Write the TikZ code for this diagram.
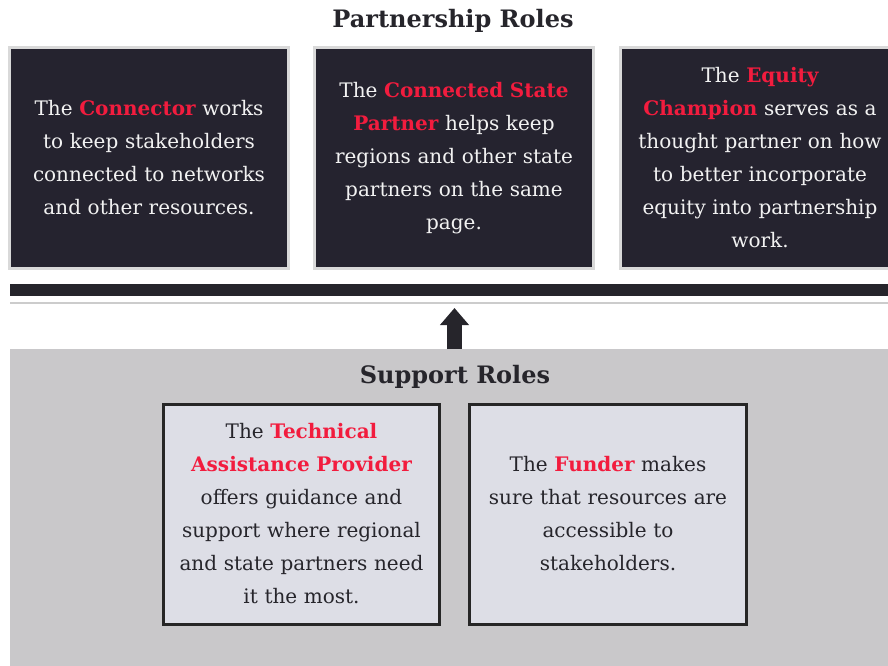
\documentclass[tikz,border=0pt]{standalone}
\usepackage{fontspec}
\setmainfont{DejaVu Serif}
\usetikzlibrary{arrows.meta,positioning}

%Colours
\definecolor{boxdark}{HTML}{25232F}
\definecolor{boxlight}{HTML}{DDDEE6}
\definecolor{panelgray}{HTML}{C9C8CA}
\definecolor{rolered}{HTML}{F21C3E}
\definecolor{inkdark}{HTML}{26252B}

\newcommand{\rolename}[1]{{\bfseries\color{rolered}#1}}

\begin{document}
\begin{tikzpicture}[x=1pt,y=-1pt,
  heading/.style={font=\fontsize{24}{28}\selectfont\bfseries, text=inkdark},
  partbox/.style={draw=gray!30, line width=2.5pt, fill=boxdark, text=white!95!black,
    minimum width=275pt, minimum height=221pt, text width=272pt, align=center,
    font=\fontsize{20}{33}\selectfont},
  supportbox/.style={draw=black!85, line width=3pt, fill=boxlight, text=inkdark,
    minimum width=274pt, minimum height=220pt, text width=270pt, align=center,
    font=\fontsize{20}{33}\selectfont}]

\useasboundingbox (0,0) rectangle (888,665);
\clip (0,0) rectangle (888,665);

%%% Partnership roles %%%
\node[heading] (parttitle) at (453,21) {Partnership Roles};

\node[partbox] (connector) at (149,158) {The \rolename{Connector} works\\ to keep stakeholders\\ connected to networks\\ and other resources.};
\node[partbox] (statepartner) at (454,158) {The \rolename{Connected State}\\ \rolename{Partner} helps keep\\ regions and other state\\ partners on the same\\ page.};
\node[partbox] (equity) at (760,158) {The \rolename{Equity}\\ \rolename{Champion} serves as a\\ thought partner on how\\ to better incorporate\\ equity into partnership\\ work.};

%Bar and thin line
\node[fill=inkdark, inner sep=0pt, minimum width=900pt, minimum height=12pt, anchor=north west] (bar) at (10,284) {};
\draw[gray!40, line width=2pt] (10,303) -- (900,303);

%%% Support roles %%%
\node[fill=panelgray, inner sep=0pt, minimum width=900pt, minimum height=330pt, anchor=north west] (panel) at (10,349) {};
\node[heading] (supptitle) at (455,377) {Support Roles};

\node[supportbox] (assistance) at (301.5,514) {The \rolename{Technical}\\ \rolename{Assistance Provider}\\ offers guidance and\\ support where regional\\ and state partners need\\ it the most.};
\node[supportbox] (funder) at (608,514) {The \rolename{Funder} makes\\ sure that resources are\\ accessible to\\ stakeholders.};

%Arrow
\coordinate (tip) at (454.5,308);
\draw[inkdark, line width=15pt, -{Triangle[width=28pt,length=17pt]}] (panel.north -| tip) -- (tip);

\end{tikzpicture}
\end{document}
